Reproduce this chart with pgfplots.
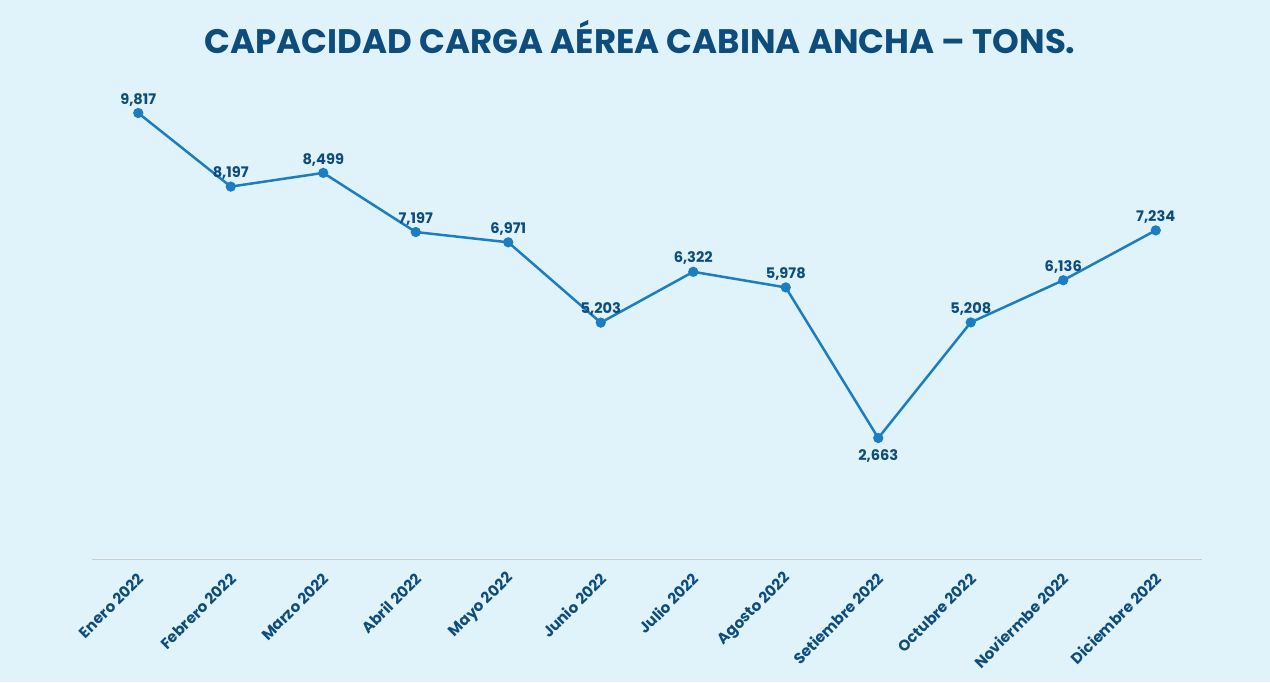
\documentclass[border=0pt]{standalone}
\usepackage{fontspec}
\setmainfont{Poppins}
\usepackage{pgfplots}
\pgfplotsset{compat=1.18}
\definecolor{bgc}{HTML}{E0F3FB}
\definecolor{linec}{HTML}{1C7EC0}
\definecolor{txtc}{HTML}{0E4D7B}
\definecolor{axc}{HTML}{C8CDD0}
\begin{document}
\begin{tikzpicture}[x=1pt,y=1pt]
\fill[bgc] (0,0) rectangle (635,341);
\node[font=\fontsize{17}{19}\selectfont\bfseries, text=txtc, anchor=center] at (320,322.5) {CAPACIDAD CARGA AÉREA CABINA ANCHA – TONS.};
\begin{axis}[
  at={(46pt,61.5pt)}, anchor=south west,
  scale only axis, width=555pt, height=227.15pt,
  xmin=-0.5, xmax=11.5, ymin=0, ymax=10000,
  clip=false,
  axis line style={draw=none},
  axis x line*=bottom,
  axis y line=none,
  xtick={0,...,11},
  xticklabels={Enero 2022,Febrero 2022,Marzo 2022,Abril 2022,Mayo 2022,Junio 2022,Julio 2022,Agosto 2022,Setiembre 2022,Octubre 2022,Noviermbe 2022,Diciembre 2022},
  major tick length=0pt,
  xticklabel style={rotate=45, anchor=east, font=\fontsize{7.6}{8}\selectfont\bfseries, text=txtc, inner sep=1pt, yshift=-7pt, xshift=-4pt},
  /pgf/number format/assume math mode=true,
  nodes near coords={\pgfmathprintnumber[fixed,1000 sep={,},assume math mode=true]{\pgfplotspointmeta}},
  nodes near coords style={font=\fontsize{7.3}{8}\selectfont\bfseries, text=txtc},
]
\draw[axc, line width=0.5pt] (axis cs:-0.5,0) -- (axis cs:11.5,0);
\addplot[linec, line width=1.25pt, mark=*, mark size=1.9pt, mark options={fill=linec, draw=linec},
  visualization depends on={value \thisrow{pos} \as \labpos},
  visualization depends on={\thisrow{ys} \as \ys},
  nodes near coords style={anchor=\labpos, yshift=\ys pt}]
  table[x=x,y=y,meta=y] {
x y pos ys
0 9817 south -0.5
1 8197 south -0.5
2 8499 south -0.5
3 7197 south -0.5
4 6971 south -0.5
5 5203 south -0.5
6 6322 south -0.5
7 5978 south -0.5
8 2663 north -2
9 5208 south -0.5
10 6136 south -0.5
11 7234 south -0.5
};
\end{axis}
\end{tikzpicture}
\end{document}
